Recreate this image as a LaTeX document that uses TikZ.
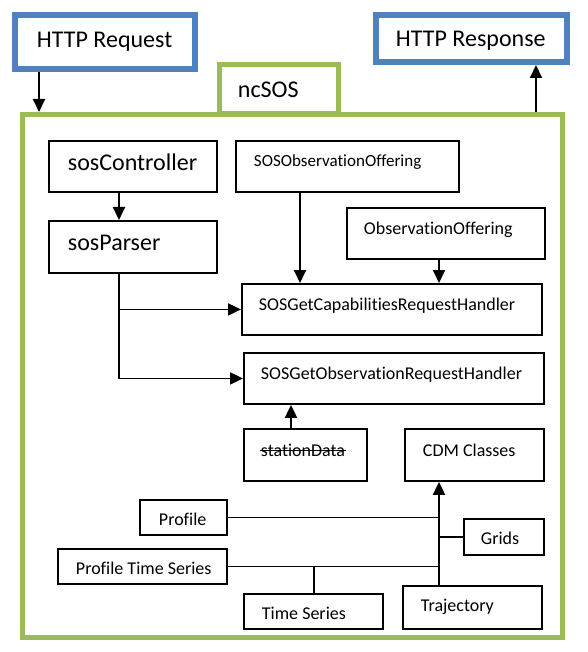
\documentclass[tikz,border=0pt]{standalone}
\usepackage{fontspec}
\setmainfont{Carlito}[Ligatures=NoCommon]
\usetikzlibrary{arrows.meta}
\definecolor{ncblue}{HTML}{4F81BD}
\definecolor{ncgreen}{HTML}{9BBB59}
\begin{document}
\begin{tikzpicture}[x=1pt, y=-1pt, line width=1.9pt,
    box/.style = {draw, rectangle, anchor=north west, inner sep=0pt},
    http/.style = {draw=ncblue, line width=6pt, rectangle, anchor=north west, inner sep=0pt},
    frame/.style = {draw=ncgreen, line width=5pt, rectangle, anchor=north west, inner sep=0pt},
    big/.style = {anchor=base west, inner sep=0pt, font=\fontsize{24}{28}\selectfont},
    txt/.style = {anchor=base west, inner sep=0pt, font=\fontsize{18}{21}\selectfont},
    arr/.style = {-{Triangle[width=12pt,length=13pt]}}]
    \useasboundingbox (0,0) rectangle (587,652);
    % outer boxes
    \node[frame, minimum width=540pt, minimum height=523pt] (frame) at (20,112) {};
    \node[frame, minimum width=119pt, minimum height=49pt] (tab) at (217,62) {};
    \node[http, minimum width=180pt, minimum height=54pt] (req) at (12,12) {};
    \node[http, minimum width=191pt, minimum height=47pt] (resp) at (373,12) {};
    % classes
    \node[box, minimum width=168pt, minimum height=51pt] (ctrl) at (48,140) {};
    \node[box, minimum width=168pt, minimum height=52pt] (parser) at (48,220) {};
    \node[box, minimum width=223pt, minimum height=51pt] (soso) at (235,140) {};
    \node[box, minimum width=198pt, minimum height=51pt] (obso) at (346,207) {};
    \node[box, minimum width=300pt, minimum height=51pt] (cap) at (241,283) {};
    \node[box, minimum width=300pt, minimum height=51pt] (obs) at (243,352) {};
    \node[box, minimum width=123pt, minimum height=52pt] (station) at (243,428) {};
    \node[box, minimum width=139pt, minimum height=52pt] (cdm) at (404,428) {};
    \node[box, minimum width=87pt, minimum height=35pt] (profile) at (139,499) {};
    \node[box, minimum width=80pt, minimum height=36pt] (grids) at (463,518) {};
    \node[box, minimum width=169pt, minimum height=35pt] (pts) at (57,548) {};
    \node[box, minimum width=139pt, minimum height=35pt] (ts) at (243,593) {};
    \node[box, minimum width=139pt, minimum height=43pt] (traj) at (402,585) {};
    % texts
    \node[big] (reqT) at (36,48) {HTTP Request};
    \node[big] (respT) at (395,47) {HTTP Response};
    \node[big] (tabT) at (237,98) {ncSOS};
    \node[big] (ctrlT) at (67,171) {sosController};
    \node[big] (parserT) at (67,250) {sosParser};
    \node[txt, font=\fontsize{17}{20}\selectfont] (sosoT) at (253,167) {SOSObservationOffering};
    \node[txt] (obsoT) at (363,234) {ObservationOffering};
    \node[txt] (capT) at (258,310) {SOSGetCapabilitiesRequestHandler};
    \node[txt] (obsT) at (260,379) {SOSGetObservationRequestHandler};
    \node[txt] (stationT) at (260,456) {stationData};
    \draw[line width=0.9pt] ([yshift=6pt]stationT.base west) -- ([yshift=6pt]stationT.base east);
    \node[txt] (cdmT) at (422,456) {CDM Classes};
    \node[txt] (profileT) at (158,525) {Profile};
    \node[txt] (gridsT) at (480,544) {Grids};
    \node[txt] (ptsT) at (75,574) {Profile Time Series};
    \node[txt] (tsT) at (261,619) {Time Series};
    \node[txt] (trajT) at (420,611) {Trajectory};
    % columns of the connectors
    \coordinate (inx) at (39,0);
    \coordinate (outx) at (536,0);
    \coordinate (px) at (119,0);
    \coordinate (sx) at (300,0);
    \coordinate (bus) at (439,0);
    \coordinate (dx) at (291,0);
    \coordinate (tx) at (314,0);
    \draw[arr] (req.south -| inx) -- (frame.north -| inx);
    \draw[arr] (frame.north -| outx) -- (resp.south -| outx);
    \draw[arr] (ctrl.south -| px) -- (parser.north -| px);
    \draw[arr] (soso.south -| sx) -- (cap.north -| sx);
    \draw[arr] (obso.south -| bus) -- (cap.north -| bus);
    \draw[arr] (parser.south -| px) |- (obs.west);
    \draw[arr] (cap.west -| px) -- (cap.west);
    \draw[arr] (station.north -| dx) -- (obs.south -| dx);
    \draw[arr] (traj.north -| bus) -- (cdm.south -| bus);
    \draw (profile.east) -- (profile.east -| bus);
    \draw (grids.west) -- (grids.west -| bus);
    \draw (pts.east) -- (pts.east -| bus);
    \draw (ts.north -| tx) -- (pts.east -| tx);
\end{tikzpicture}
\end{document}
